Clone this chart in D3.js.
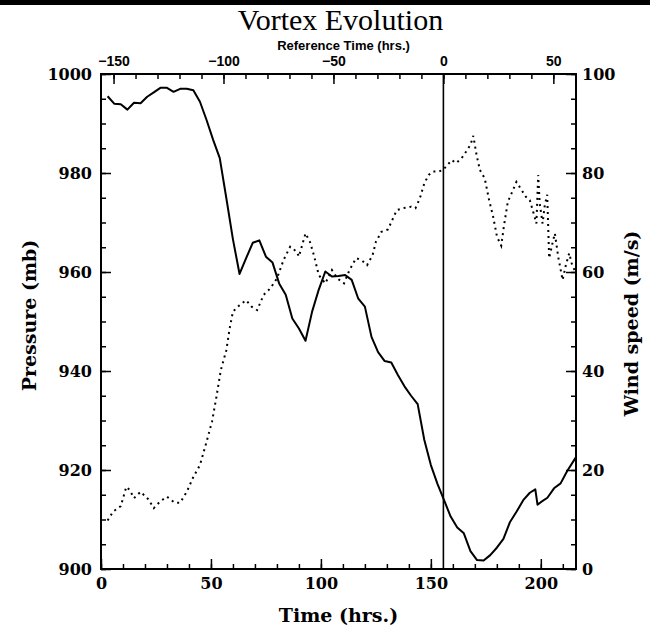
<!DOCTYPE html>
<head>
    <meta charset="utf-8">
    <script src="https://d3js.org/d3.v7.min.js"></script>
    <style>
        body { margin: 0; background: #fff; }
        .frame { fill: none; stroke: #000; stroke-width: 2px; }
        .axis line { stroke: #000; stroke-width: 1.5px; }
        .axis path { display: none; }
        .axis text { font-family: "DejaVu Serif", serif; font-weight: bold; font-size: 16px; fill: #000; }
        .axis.top text { font-family: "Liberation Sans Narrow", "Liberation Sans", sans-serif; font-stretch: condensed; font-size: 14px; }
        .label { font-family: "DejaVu Serif", serif; font-weight: bold; font-size: 19px; }
        .pressure { fill: none; stroke: #000; stroke-width: 2px; stroke-linejoin: round; }
        .wind { fill: none; stroke: #000; stroke-width: 2px; stroke-dasharray: 2,4; }
    </style>
</head>
<body>
<script>

    // pressure (solid line), hours since start
    var pressureTime = [3, 6, 9, 12, 15, 18, 21, 24, 27, 30, 33, 36, 39, 42, 45, 48, 51, 54, 57, 60,
        63, 66, 69, 72, 75, 78, 81, 84, 87, 90, 93, 96, 99, 102, 105, 108, 111, 114, 117, 120,
        123, 126, 129, 132, 135, 138, 141, 144, 147, 150, 153, 156, 159, 162, 165, 168, 171, 174, 177, 180,
        183, 186, 189, 192, 195, 197.5, 198.5, 200, 203, 206, 209, 212, 216];
    var pressureValue = [995.5, 994, 993.9, 992.8, 994.2, 994.1, 995.4, 996.3, 997.2, 997.2, 996.4, 997, 997, 996.7, 994.4, 990.7, 986.7, 983, 974.9, 966.6,
        959.6, 962.8, 965.9, 966.4, 963.1, 961.9, 957.7, 955.4, 950.6, 948.6, 946.1, 952, 956.4, 960.1, 959.1, 959.2, 959.4, 958.4, 954.6, 953,
        946.9, 943.8, 942, 941.7, 939.2, 936.9, 935, 933.3, 926.1, 921, 917.2, 913.9, 910.6, 908.4, 907.2, 903.6, 901.8, 901.7, 902.8, 904.3,
        906.1, 909.5, 911.6, 913.9, 915.4, 916.1, 913, 913.5, 914.4, 916.3, 917.3, 919.8, 922.6];

    // wind speed (dotted line)
    var windTime = [3, 5.5, 9, 11.5, 13, 15, 18, 21.5, 24, 27, 30, 33.5, 36, 39, 42, 45, 48, 50.5, 52.5, 54.5,
        57, 58.5, 60, 63, 66, 68.5, 71, 74, 77, 80, 83, 86, 89, 90, 93, 95, 97, 99, 102, 105,
        107.5, 110.5, 113, 116, 118.5, 121, 123.5, 125, 127.5, 130.5, 134.5, 137.5, 141, 143, 145, 147, 149, 151, 153.5, 155.5,
        157.5, 159.5, 161.5, 164, 166, 168, 169.3, 170.8, 172.3, 174.5, 176.5, 178.3, 180.1, 182, 183.2, 185, 187.4, 188.9, 191.2, 193.2,
        195, 196.5, 198, 198.8, 199.5, 200.8, 201.8, 202.9, 203.8, 205.3, 206.4, 207.9, 209.9, 211.4, 212.9, 214.4, 216];
    var windValue = [9.8, 11.6, 12.7, 16.6, 16, 14.3, 15.6, 14.1, 12.3, 13.7, 14.6, 13.4, 13.4, 15.6, 18.6, 21, 25.7, 29.8, 34.8, 40.2,
        44.2, 48.6, 52, 53.3, 54.3, 53, 52.3, 55.4, 56.7, 58.7, 62.4, 65.1, 64.1, 63.1, 67.8, 66.1, 63.1, 59.4, 57.7, 60.4,
        58.7, 57.7, 60.4, 62.8, 62.4, 61.4, 63.4, 66.1, 68.1, 68.6, 72.5, 72.9, 73.2, 72.9, 74.9, 77.9, 79.6, 80.3, 80.3, 80.6,
        81.6, 82.6, 82, 83, 84.3, 85.7, 87.5, 83.6, 80.6, 78.9, 74.5, 71.2, 67.1, 65.3, 69.2, 74.2, 76.6, 78.2, 76.6, 75.2,
        74.5, 72.2, 69.8, 79.6, 73.9, 69.8, 73.5, 75.6, 62.8, 65.8, 67.8, 63.1, 58.4, 61.4, 63.8, 61.1, 60];

    var refZero = 155.7;   // reference time 0 in hours since start
    var timeTicks = [0, 50, 100, 150, 200];
    var refTicks = [-150, -100, -50, 0, 50];
    var pressureTicks = [900, 920, 940, 960, 980, 1000];
    var windTicks = [0, 20, 40, 60, 80, 100];

    var margin = {top: 74, right: 74, bottom: 60, left: 101},
        width = 650 - margin.left - margin.right,
        height = 629 - margin.top - margin.bottom;

    var x = d3.scaleLinear().domain([0, 216]).range([0, width]);
    var xRef = d3.scaleLinear().domain([-refZero, 216 - refZero]).range([0, width]);
    var y = d3.scaleLinear().domain([900, 1000]).range([height, 0]);
    var yWind = d3.scaleLinear().domain([0, 100]).range([height, 0]);

    var fmt = d3.format("d");

    var root = d3.select("body").append("svg")
        .attr("width", 650)
        .attr("height", 629);

    root.append("rect")
        .attr("width", 650)
        .attr("height", 5)
        .attr("fill", "#000");

    var svg = root.append("g")
        .attr("transform", "translate(" + margin.left + "," + margin.top + ")");

    // minor ticks first, majors on top
    svg.append("g").attr("class", "axis")
        .attr("transform", "translate(0," + height + ")")
        .call(d3.axisBottom(x).tickValues(d3.range(0, 217, 10)).tickSize(-5).tickFormat(""));
    svg.append("g").attr("class", "axis")
        .attr("transform", "translate(0," + height + ")")
        .call(d3.axisBottom(x).tickValues(timeTicks).tickSize(-10).tickSizeOuter(0).tickPadding(9).tickFormat(fmt));

    svg.append("g").attr("class", "axis")
        .call(d3.axisTop(xRef).tickValues(d3.range(-150, 61, 10)).tickSize(-5).tickFormat(""));
    svg.append("g").attr("class", "axis top")
        .call(d3.axisTop(xRef).tickValues(refTicks).tickSize(-10).tickSizeOuter(0).tickPadding(8).tickFormat(fmt));

    svg.append("g").attr("class", "axis")
        .call(d3.axisLeft(y).tickValues(d3.range(900, 1001, 5)).tickSize(-5).tickFormat(""));
    svg.append("g").attr("class", "axis")
        .call(d3.axisLeft(y).tickValues(pressureTicks).tickSize(-10).tickSizeOuter(0).tickPadding(9).tickFormat(fmt));

    svg.append("g").attr("class", "axis")
        .attr("transform", "translate(" + width + ",0)")
        .call(d3.axisRight(yWind).tickValues(d3.range(0, 101, 5)).tickSize(-5).tickFormat(""));
    svg.append("g").attr("class", "axis")
        .attr("transform", "translate(" + width + ",0)")
        .call(d3.axisRight(yWind).tickValues(windTicks).tickSize(-10).tickSizeOuter(0).tickPadding(6).tickFormat(fmt));

    svg.append("rect")
        .attr("class", "frame")
        .attr("width", width)
        .attr("height", height);

    svg.append("line")
        .attr("x1", x(refZero)).attr("x2", x(refZero))
        .attr("y1", 0).attr("y2", height)
        .attr("stroke", "#000")
        .attr("stroke-width", 1.6);

    svg.append("path")
        .attr("class", "wind")
        .attr("d", d3.line()
            .x(function(d, i) { return x(windTime[i]); })
            .y(function(d) { return yWind(d); })(windValue));

    svg.append("path")
        .attr("class", "pressure")
        .attr("d", d3.line()
            .x(function(d, i) { return x(pressureTime[i]); })
            .y(function(d) { return y(d); })(pressureValue));

    // titles
    root.append("text")
        .attr("x", margin.left + width / 2 + 2)
        .attr("y", 30)
        .attr("text-anchor", "middle")
        .style("font-family", "'Liberation Serif', serif")
        .style("font-size", "30px")
        .text("Vortex Evolution");

    root.append("text")
        .attr("x", margin.left + width / 2 + 5)
        .attr("y", 50)
        .attr("text-anchor", "middle")
        .style("font-family", "'Liberation Sans Narrow', 'Liberation Sans', sans-serif")
        .style("font-stretch", "condensed")
        .style("font-weight", "bold")
        .style("font-size", "13px")
        .text("Reference Time (hrs.)");

    root.append("text")
        .attr("class", "label")
        .attr("x", margin.left + width / 2)
        .attr("y", 622)
        .attr("text-anchor", "middle")
        .text("Time (hrs.)");

    root.append("text")
        .attr("class", "label")
        .attr("transform", "translate(36," + (margin.top + height / 2 - 6) + ") rotate(-90)")
        .attr("text-anchor", "middle")
        .text("Pressure (mb)");

    root.append("text")
        .attr("class", "label")
        .attr("transform", "translate(638," + (margin.top + height / 2 + 2) + ") rotate(-90)")
        .attr("text-anchor", "middle")
        .text("Wind speed (m/s)");
</script>
</body>
